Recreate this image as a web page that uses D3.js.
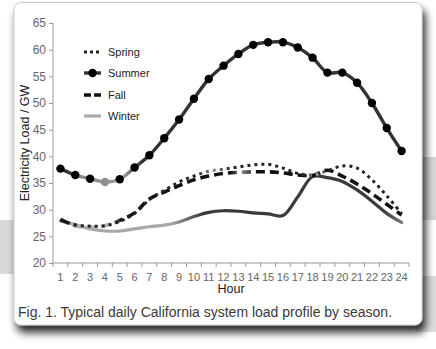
<!DOCTYPE html>
<html>
<head>
<meta charset="utf-8">
<script src="https://cdn.jsdelivr.net/npm/d3@7"></script>
<style>
  html, body { margin: 0; padding: 0; background: #ffffff; }
  svg { display: block; font-family: "Liberation Sans", Arial, Helvetica, sans-serif; }
</style>
</head>
<body>
<svg id="chart" width="436" height="349"></svg>
<script>
// ---------------- data ----------------
const hours = [1,2,3,4,5,6,7,8,9,10,11,12,13,14,15,16,17,18,19,20,21,22,23,24];
const spring = [28.0,27.2,26.9,27.0,27.8,29.3,31.9,33.6,35.2,36.3,37.2,37.6,38.0,38.4,38.5,37.8,36.8,36.5,37.3,38.2,37.8,35.6,32.6,29.3];
const summer = [37.7,36.5,35.8,35.2,35.7,37.9,40.2,43.4,46.9,50.8,54.5,57.0,59.2,60.9,61.4,61.4,60.4,58.5,55.7,55.7,53.8,50.0,45.3,41.0];
const fall   = [28.2,27.0,26.7,27.0,28.0,29.4,32.0,33.3,34.5,35.6,36.3,36.8,37.0,37.1,37.1,36.9,36.5,36.4,37.4,36.3,34.8,33.0,31.0,29.0];
const winter = [27.9,27.2,26.4,26.0,26.0,26.4,26.8,27.1,27.7,28.7,29.5,29.8,29.7,29.4,29.2,28.9,32.4,36.2,36.0,35.3,33.7,31.6,29.3,27.6];
const yTicks = [20,25,30,35,40,45,50,55,60,65];
const seriesNames = ["Spring","Summer","Fall","Winter"];
const yTitle = "Electricity Load / GW";
const xTitle = "Hour";
const caption = "Fig. 1. Typical daily California system load profile by season.";

// ---------------- layout ----------------
const svg = d3.select("#chart");
const defs = svg.append("defs");

// background artefacts of the page behind the card
const bg = svg.append("g");
bg.append("rect").attr("x",0).attr("y",220).attr("width",20).attr("height",54).attr("fill","#d9d9d9");
bg.append("rect").attr("x",416).attr("y",157).attr("width",20).attr("height",63).attr("fill","#d6d6d6");
bg.append("rect").attr("x",416).attr("y",276).attr("width",20).attr("height",56).attr("fill","#dcdcdc");

// card shadow
const sh = defs.append("filter").attr("id","shadow").attr("x","-10%").attr("y","-10%").attr("width","130%").attr("height","130%");
sh.append("feGaussianBlur").attr("in","SourceAlpha").attr("stdDeviation",4).attr("result","b");
sh.append("feOffset").attr("in","b").attr("dx",3).attr("dy",7).attr("result","o");
sh.append("feComponentTransfer").attr("in","o").attr("result","s")
  .append("feFuncA").attr("type","linear").attr("slope",0.85);
const m = sh.append("feMerge");
m.append("feMergeNode").attr("in","s");
m.append("feMergeNode").attr("in","SourceGraphic");

svg.append("rect").attr("x",14).attr("y",2.5).attr("width",408).attr("height",322.5)
  .attr("rx",7).attr("fill","#ffffff").attr("stroke","#c8c8c8").attr("stroke-width",1)
  .attr("filter","url(#shadow)");

// scales
const x = d3.scaleBand().domain(hours).range([53, 409]).padding(0);
const y = d3.scaleLinear().domain([20, 65]).range([263, 23]);
const cx = h => x(h) + x.bandwidth() / 2;

// gradients (stroke shading along x)
function grad(id, stops) {
  const g = defs.append("linearGradient").attr("id", id).attr("gradientUnits","userSpaceOnUse")
    .attr("x1", 53).attr("x2", 409).attr("y1", 0).attr("y2", 0);
  stops.forEach(s => g.append("stop").attr("offset", s[0]).attr("stop-color", s[1]));
}
grad("gWinter", [[0,"#555"],[0.02,"#a8a8a8"],[0.33,"#a8a8a8"],[0.42,"#3a3a3a"],[0.93,"#3a3a3a"],[1,"#909090"]]);
grad("gSummer", [[0,"#333"],[0.04,"#333"],[0.08,"#8a8a8a"],[0.2,"#9a9a9a"],[0.25,"#333"],[1,"#333"]]);
grad("gFall",   [[0,"#111"],[0.05,"#111"],[0.07,"#b0b0b0"],[0.17,"#b0b0b0"],[0.19,"#111"],[0.5,"#111"],[0.53,"#888"],[0.57,"#111"],[1,"#111"]]);
grad("gSpring", [[0,"#222"],[0.4,"#222"],[0.45,"#888"],[0.5,"#222"],[0.7,"#222"],[0.74,"#999"],[0.78,"#222"],[1,"#222"]]);

// axes
const axisG = svg.append("g");
const yAxis = d3.axisLeft(y).tickValues(yTicks).tickSize(4).tickPadding(3);
const gy = axisG.append("g").attr("transform","translate(53,0)").call(yAxis);
gy.select(".domain").attr("stroke","#999").attr("d","M0,23V263");
gy.selectAll(".tick line").attr("stroke","#999");
gy.selectAll(".tick text").attr("fill","#666").attr("font-size",12).attr("font-family","Liberation Sans, Arial, sans-serif");

const xAxis = d3.axisBottom(x).tickSize(0).tickPadding(10);
const gx = axisG.append("g").attr("transform","translate(0,263)").call(xAxis);
gx.select(".domain").attr("stroke","#999").attr("d","M53,0H409");
gx.selectAll(".tick text").attr("fill","#666").attr("font-size",11).attr("font-family","Liberation Sans, Arial, sans-serif");
// boundary ticks between categories
const bounds = hours.map(h => x(h)).concat([x(hours[hours.length-1]) + x.bandwidth()]);
gx.selectAll(".btick").data(bounds).enter().append("line").attr("class","btick")
  .attr("x1", d => d).attr("x2", d => d).attr("y1", 0).attr("y2", 4).attr("stroke","#999");

// titles
svg.append("text").attr("transform","translate(29,143) rotate(-90)").attr("text-anchor","middle")
  .attr("font-size",12.5).attr("fill","#222").text(yTitle);
svg.append("text").attr("x",231).attr("y",293).attr("text-anchor","middle")
  .attr("font-size",12.5).attr("fill","#222").text(xTitle);
svg.append("text").attr("x",18).attr("y",317).attr("font-size",14).attr("fill","#3a3a3a").text(caption);

// lines
const line = d3.line().x((d,i) => cx(hours[i])).y(d => y(d)).curve(d3.curveCatmullRom.alpha(0.5));
const plot = svg.append("g");

plot.append("path").datum(winter).attr("d", line).attr("fill","none")
  .attr("stroke","url(#gWinter)").attr("stroke-width",3.2).attr("stroke-linecap","round");
plot.append("path").datum(fall).attr("d", line).attr("fill","none")
  .attr("stroke","url(#gFall)").attr("stroke-width",3.6).attr("stroke-dasharray","9 5");
plot.append("path").datum(spring).attr("d", line).attr("fill","none")
  .attr("stroke","url(#gSpring)").attr("stroke-width",3).attr("stroke-dasharray","3 4");
plot.append("path").datum(summer).attr("d", line).attr("fill","none")
  .attr("stroke","url(#gSummer)").attr("stroke-width",3.4);
plot.selectAll(".sdot").data(summer).enter().append("circle").attr("class","sdot")
  .attr("cx",(d,i) => cx(hours[i])).attr("cy", d => y(d)).attr("r",4.2)
  .attr("fill",(d,i) => hours[i] === 4 ? "#8f8f8f" : "#000");

// legend
const lg = svg.append("g").attr("font-size",11).attr("fill","#222");
const ly = [52, 73, 95, 116];
const styles = [
  {stroke:"#222", w:3, dash:"3 3"},
  {stroke:"#333", w:3.4, dash:null, dot:true},
  {stroke:"#111", w:3.6, dash:"7 3"},
  {stroke:"#aaa", w:3.2, dash:null}
];
seriesNames.forEach((n,i) => {
  const s = styles[i];
  const l = lg.append("line").attr("x1",84).attr("x2",101).attr("y1",ly[i]).attr("y2",ly[i])
    .attr("stroke",s.stroke).attr("stroke-width",s.w);
  if (s.dash) l.attr("stroke-dasharray", s.dash);
  if (s.dot) lg.append("circle").attr("cx",92.5).attr("cy",ly[i]).attr("r",4.2).attr("fill","#000");
  lg.append("text").attr("x",108).attr("y",ly[i]+4).text(n);
});
</script>
</body>
</html>
